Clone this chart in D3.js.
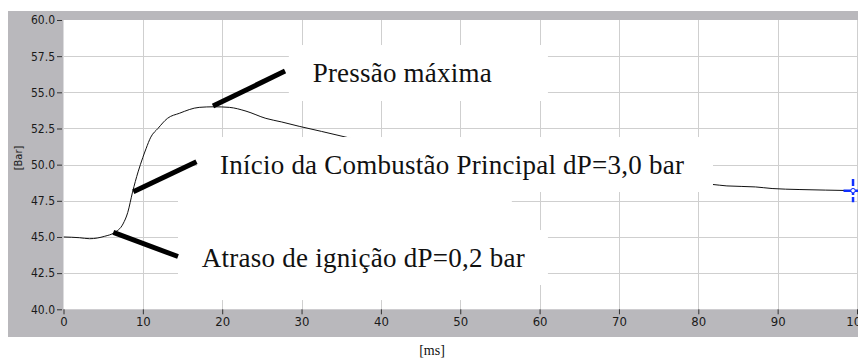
<!DOCTYPE html>
<html>
<head>
<meta charset="utf-8">
<script src="https://cdn.jsdelivr.net/npm/d3@7"></script>
<style>
  html, body { margin: 0; padding: 0; background: #ffffff; }
  svg { display: block; }
  .tick text { font-family: "Liberation Sans Narrow", "DejaVu Sans Condensed", "Liberation Sans", sans-serif; fill: #1a1a1a; }
  .note { font-family: "Liberation Serif", "Times New Roman", serif; fill: #111; }
</style>
</head>
<body>
<svg id="chart" width="858" height="360"></svg>
<script>
// Pressure trace: time in ms, pressure in bar
const timeMs = [0, 2, 3.3, 5.2, 6.4, 7.5, 8.1, 8.7, 9.4, 10.0, 10.4, 11.0, 11.9, 13.1, 14.6, 17.1, 19, 20.9, 23, 25.5, 27.5, 29.7, 32.5, 35.6, 40, 50, 60, 70, 80, 81.8, 83.6, 87.2, 89.3, 92.7, 96, 100];
const pressureBar = [45.0, 44.95, 44.88, 45.05, 45.3, 45.9, 46.7, 48.1, 49.5, 50.5, 51.1, 51.9, 52.5, 53.2, 53.55, 53.96, 54.0, 53.96, 53.7, 53.2, 52.95, 52.65, 52.3, 51.9, 51.4, 50.5, 49.8, 49.2, 48.7, 48.63, 48.53, 48.46, 48.35, 48.28, 48.24, 48.2];

// Axis ticks
const xTicks = [0, 10, 20, 30, 40, 50, 60, 70, 80, 90, 100];
const yTicks = [40, 42.5, 45, 47.5, 50, 52.5, 55, 57.5, 60];

// Annotation labels
const noteLabels = ["Pressão máxima", "Início da Combustão Principal dP=3,0 bar", "Atraso de ignição dP=0,2 bar"];
// text anchor [t, P] and rendered width (px)
const noteAnchors = [[31.4, 55.73], [19.72, 49.32], [17.42, 42.95]];
const noteWidths = [179, 464, 323];
// leader lines [t0, P0, t1, P1]: from the curve to the label
const noteLeaders = [[18.84, 54.05, 27.92, 56.47], [8.8, 48.13, 16.76, 50.2], [6.28, 45.32, 14.43, 43.65]];
// white label backgrounds [t0, t1, Ptop, Pbottom]
const noteBoxes = [[28.4, 61.05, 58.27, 54.4], [16.82, 81.85, 51.91, 48.11], [14.43, 56.5, 48.11, 40.64], [14.43, 61.05, 45.48, 41.68]];

// Cursor on the last sample
const cursorPoint = [99.5, 48.2];

const svg = d3.select("#chart");

const x = d3.scaleLinear().domain([0, 100]).range([63.5, 857]);
const y = d3.scaleLinear().domain([40, 60]).range([309.3, 20]);

// grey frame
svg.append("rect")
  .attr("x", 8).attr("y", 11).attr("width", 850).attr("height", 326)
  .attr("fill", "#b9b8bc");

// plot area
svg.append("rect")
  .attr("x", x(0)).attr("y", y(60))
  .attr("width", 858 - x(0)).attr("height", y(40) - y(60))
  .attr("fill", "#ffffff");

svg.append("clipPath").attr("id", "plotClip")
  .append("rect")
  .attr("x", x(0)).attr("y", y(60))
  .attr("width", 858 - x(0)).attr("height", y(40) - y(60));

const plot = svg.append("g").attr("clip-path", "url(#plotClip)");

// grid
plot.append("g").selectAll("line").data(xTicks.slice(1)).join("line")
  .attr("x1", d => Math.round(x(d)) + 0.5).attr("x2", d => Math.round(x(d)) + 0.5)
  .attr("y1", y(60)).attr("y2", y(40))
  .attr("stroke", "#cfcfcf").attr("stroke-width", 1);
plot.append("g").selectAll("line").data(yTicks.slice(1, -1)).join("line")
  .attr("x1", x(0)).attr("x2", 858)
  .attr("y1", d => Math.round(y(d)) + 0.5).attr("y2", d => Math.round(y(d)) + 0.5)
  .attr("stroke", "#cfcfcf").attr("stroke-width", 1);

// pressure curve
const line = d3.line()
  .x((d, i) => x(timeMs[i]))
  .y(d => y(d))
  .curve(d3.curveMonotoneX);

plot.append("path")
  .datum(pressureBar)
  .attr("d", line)
  .attr("fill", "none")
  .attr("stroke", "#111")
  .attr("stroke-width", 1);

// cursor marker
const cx = x(cursorPoint[0]), cy = y(cursorPoint[1]);
plot.append("line")
  .attr("x1", cx).attr("x2", cx)
  .attr("y1", y(cursorPoint[1] + 0.8)).attr("y2", y(cursorPoint[1] - 0.8))
  .attr("stroke", "#1030ff").attr("stroke-width", 2.5)
  .attr("stroke-dasharray", "7,2");
plot.append("line")
  .attr("x1", x(98.3)).attr("x2", x(100) + 2)
  .attr("y1", cy).attr("y2", cy)
  .attr("stroke", "#1030ff").attr("stroke-width", 2.5);
plot.append("circle")
  .attr("cx", cx).attr("cy", cy).attr("r", 2.2)
  .attr("fill", "#ffffff").attr("stroke", "#1030ff").attr("stroke-width", 1);

// label backgrounds
svg.append("g").selectAll("rect").data(noteBoxes).join("rect")
  .attr("x", d => x(d[0])).attr("y", d => y(d[2]))
  .attr("width", d => x(d[1]) - x(d[0]))
  .attr("height", d => y(d[3]) - y(d[2]))
  .attr("fill", "#ffffff");

// leader lines
svg.append("g").selectAll("line").data(noteLeaders).join("line")
  .attr("x1", d => x(d[0])).attr("y1", d => y(d[1]))
  .attr("x2", d => x(d[2])).attr("y2", d => y(d[3]))
  .attr("stroke", "#000").attr("stroke-width", 5);

// label text
svg.append("g").selectAll("text").data(noteLabels).join("text")
  .attr("class", "note")
  .attr("x", (d, i) => x(noteAnchors[i][0]))
  .attr("y", (d, i) => y(noteAnchors[i][1]))
  .attr("font-size", 27)
  .attr("textLength", (d, i) => noteWidths[i])
  .attr("lengthAdjust", "spacing")
  .text(d => d);

// axes
const yAxis = d3.axisLeft(y).tickValues(yTicks).tickFormat(d3.format(".1f"))
  .tickSize(5).tickSizeOuter(0).tickPadding(2);
const gy = svg.append("g").attr("transform", "translate(62,0)").call(yAxis);
gy.select(".domain").remove();
gy.selectAll(".tick line").attr("stroke", "#333");
gy.selectAll(".tick text").attr("font-size", 12);

const xAxis = d3.axisBottom(x).tickValues(xTicks).tickFormat(d3.format("d"))
  .tickSize(5).tickSizeOuter(0).tickPadding(2);
const gx = svg.append("g").attr("transform", `translate(0,${y(40)})`).call(xAxis);
gx.select(".domain").remove();
gx.selectAll(".tick line").attr("stroke", "#333");
gx.selectAll(".tick text").attr("font-size", 13);

// axis titles
svg.append("text")
  .attr("transform", "translate(22,158) rotate(-90)")
  .attr("text-anchor", "middle")
  .attr("font-family", "'Liberation Sans Narrow', 'DejaVu Sans Condensed', sans-serif")
  .attr("font-size", 11)
  .attr("fill", "#1a1a1a")
  .text("[Bar]");

svg.append("text")
  .attr("x", 432).attr("y", 355)
  .attr("text-anchor", "middle")
  .attr("font-family", "'Liberation Serif', 'Times New Roman', serif")
  .attr("font-size", 14)
  .attr("fill", "#111")
  .text("[ms]");
</script>
</body>
</html>
